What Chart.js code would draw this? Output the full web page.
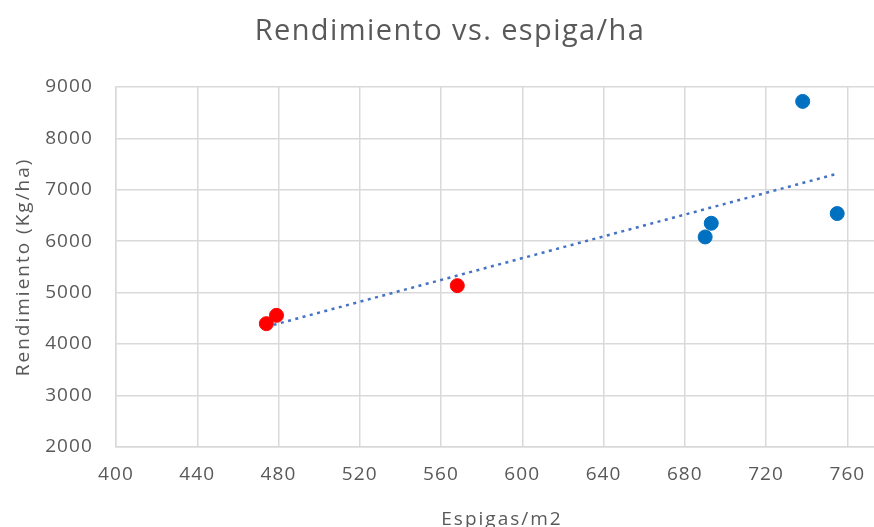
<!DOCTYPE html>
<html>
<head>
<meta charset="utf-8">
<script src="https://cdn.jsdelivr.net/npm/chart.js@4.4.1/dist/chart.umd.min.js"></script>
<style>
  html, body { margin: 0; padding: 0; background: #fff; overflow: hidden; }
  #wrap { width: 904px; height: 527px; }
</style>
</head>
<body>
<div id="wrap"><canvas id="c" width="904" height="527"></canvas></div>
<script>
// Espigas por m2 y rendimiento (Kg/ha)
const altoEspigas = [738, 755, 693, 690];
const altoRend    = [8716, 6537, 6348, 6082];
const bajoEspigas = [474, 479, 568];
const bajoRend    = [4397, 4558, 5136];
const xTicks = [400, 440, 480, 520, 560, 600, 640, 680, 720, 760, 780];
const yTicks = [2000, 3000, 4000, 5000, 6000, 7000, 8000, 9000];

// Linear trend over all observations
const allX = altoEspigas.concat(bajoEspigas);
const allY = altoRend.concat(bajoRend);
const n = allX.length;
const mx = allX.reduce((a, b) => a + b, 0) / n;
const my = allY.reduce((a, b) => a + b, 0) / n;
let sxy = 0, sxx = 0;
for (let i = 0; i < n; i++) { sxy += (allX[i] - mx) * (allY[i] - my); sxx += (allX[i] - mx) ** 2; }
const slope = sxy / sxx;
const icpt = my - slope * mx;
const xMin = Math.min(...allX), xMax = Math.max(...allX);
const trend = [{ x: xMin, y: icpt + slope * xMin }, { x: xMax, y: icpt + slope * xMax }];

const FONT = "'Open Sans', sans-serif";
const GRAY = '#595959';
const GRID = '#d9d9d9';

// Slightly wider tracking for the chart texts (canvas letterSpacing)
function withSpacing(obj, method, spacing) {
  if (!obj || obj['__sp_' + method]) return;
  const orig = obj[method];
  obj[method] = function (...args) {
    const ctx = this.ctx;
    const prev = ctx.letterSpacing;
    ctx.letterSpacing = spacing;
    const r = orig.apply(this, args);
    ctx.letterSpacing = prev;
    return r;
  };
  obj['__sp_' + method] = true;
}
const tracking = {
  id: 'tracking',
  afterLayout(chart) {
    withSpacing(chart.titleBlock, 'draw', '1.4px');
    for (const s of Object.values(chart.scales)) {
      withSpacing(s, 'drawLabels', '1.1px');
      withSpacing(s, 'drawTitle', '2px');
    }
  }
};

new Chart(document.getElementById('c'), {
  type: 'scatter',
  plugins: [tracking],
  data: {
    datasets: [
      {
        label: 'Tendencia',
        type: 'line',
        data: trend,
        borderColor: '#4472c4',
        borderWidth: 2.5,
        borderDash: [3, 4.5],
        pointRadius: 0,
        fill: false,
        order: 2
      },
      {
        label: 'Alto',
        data: altoEspigas.map((x, i) => ({ x, y: altoRend[i] })),
        backgroundColor: '#0070c0',
        borderColor: '#0070c0',
        pointRadius: 7,
        order: 1
      },
      {
        label: 'Bajo',
        data: bajoEspigas.map((x, i) => ({ x, y: bajoRend[i] })),
        backgroundColor: '#ff0000',
        borderColor: '#ff0000',
        pointRadius: 7,
        order: 1
      }
    ]
  },
  options: {
    responsive: false,
    animation: false,
    layout: { padding: { left: 0, right: 4, top: 0, bottom: 0 } },
    plugins: {
      legend: { display: false },
      tooltip: { enabled: false },
      title: {
        display: true,
        text: 'Rendimiento vs. espiga/ha',
        color: GRAY,
        font: { family: FONT, size: 29, weight: 'normal' },
        padding: { top: 14, bottom: 38 }
      }
    },
    scales: {
      x: {
        type: 'linear',
        min: 400, max: 780,
        afterBuildTicks: s => { s.ticks = xTicks.map(v => ({ value: v })); },
        afterFit: s => { s.height = 80; },
        grid: { color: GRID, lineWidth: 1.5, drawTicks: false },
        border: { color: GRID, width: 1.5 },
        ticks: {
          color: GRAY, padding: 16,
          font: { family: FONT, size: 19 },
          callback: v => (v === 780 ? '' : String(v))
        },
        title: {
          display: true, text: 'Espigas/m2', color: GRAY,
          font: { family: FONT, size: 19 },
          padding: { top: 12, bottom: -4 }
        }
      },
      y: {
        min: 2000, max: 9000,
        afterBuildTicks: s => { s.ticks = yTicks.map(v => ({ value: v })); },
        afterFit: s => { s.width = 116; },
        grid: { color: GRID, lineWidth: 1.5, drawTicks: false },
        border: { color: GRID, width: 1.5 },
        ticks: {
          color: GRAY, padding: 23,
          font: { family: FONT, size: 19 },
          callback: v => String(v)
        },
        title: {
          display: true, text: 'Rendimiento (Kg/ha)', color: GRAY,
          font: { family: FONT, size: 19 },
          padding: { top: 12, bottom: 0 }
        }
      }
    }
  }
});
</script>
</body>
</html>
